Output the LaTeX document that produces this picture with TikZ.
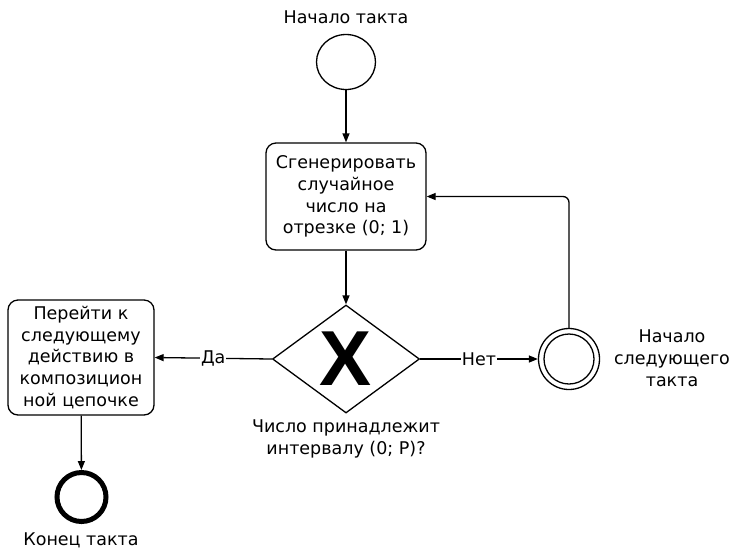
\documentclass[tikz,border=0pt]{standalone}
\usepackage{fontspec}
\setmainfont{DejaVu Sans}
\newfontfamily\shlfont{Liberation Sans}
\usetikzlibrary{
  arrows.meta,
  positioning,
  shapes.geometric
}

\begin{document}
\begin{tikzpicture}[
    x=1pt, y=-1pt,
    font=\fontsize{17.5}{21.8}\selectfont,
    blok/.style={
    draw,
    rounded corners=10pt,
    align=center,
    inner sep=0pt,
    line width=1.3pt
    },
    sobyt/.style={draw, circle, inner sep=0pt, line width=1.3pt},
    podpis/.style={align=center, inner sep=0pt},
    strelka/.style={-{Triangle[length=9pt,width=7pt]}, line width=1.3pt}
    ]

    \useasboundingbox[fill=white] (0,0) rectangle (730,550);

    \node[sobyt, ellipse, minimum width=59pt, minimum height=55pt] (start) at (346,62) {};
    \node[podpis] (startlbl) at (346,17) {Начало такта};

    \node[blok, minimum width=160pt, minimum height=107pt] (gen) at (346,196.5)
    {Сгенерировать\\случайное\\число на\\отрезке (0; 1)};

    \node[draw, diamond, line width=1.3pt, minimum width=147pt, minimum height=108pt, inner sep=0pt] (shl) at (346,359) {};
    \node[inner sep=0pt] (shlx) at (shl) {\shlfont\fontsize{78}{78}\selectfont\bfseries X};
    \node[podpis] (shllbl) at (346,439) {Число принадлежит\\интервалу (0; P)?};

    \node[blok, minimum width=146pt, minimum height=115pt] (perehod) at (81,357.5)
    {Перейти к\\следующему\\действию в\\композицион\\ной цепочке};

    \node[sobyt, minimum size=61pt] (sled) at (569,359) {};
    \node[sobyt, minimum size=50pt] (sledin) at (sled) {};
    \node[podpis] (sledlbl) at (672,358) {Начало\\следующего\\такта};

    \node[sobyt, line width=5pt, minimum size=49pt] (konec) at (81.5,497) {};
    \node[podpis] (koneclbl) at (81,540) {Конец такта};

    \draw[strelka] (start) -- (gen);
    \draw[strelka] (gen) -- (shl);
    \draw[strelka] (shl.west) -- node[fill=white, inner sep=1pt] (da) {Да} (perehod.east);
    \draw[strelka] (shl.east) -- node[fill=white, inner sep=1pt] (net) {Нет} (sled.west);
    \draw[strelka, rounded corners=6pt] (sled.north) |- (gen.east);
    \draw[strelka] (perehod) -- (konec);

\end{tikzpicture}
\end{document}
